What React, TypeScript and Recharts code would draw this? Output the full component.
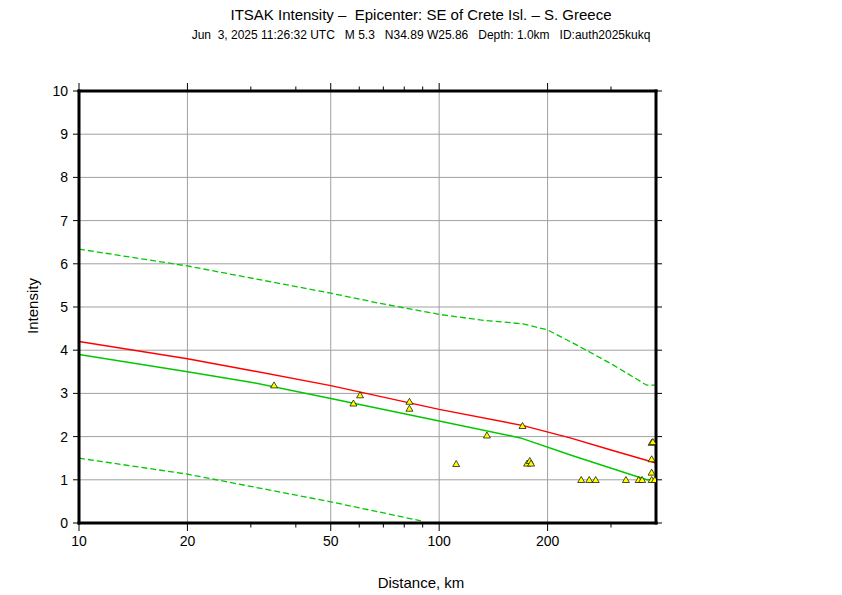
import React from 'react';
import { ComposedChart, Line, Scatter, XAxis, YAxis, CartesianGrid } from 'recharts';

// Red curve (observed-fit)
const RED_DIST = [10, 20, 30, 50, 100, 170, 231, 300, 400];
const RED_INT = [4.2, 3.8, 3.53, 3.18, 2.63, 2.26, 1.97, 1.69, 1.39];
// Green solid curve (model)
const GREEN_DIST = [10, 20, 30, 50, 100, 168, 236, 377, 400];
const GREEN_INT = [3.9, 3.5, 3.26, 2.88, 2.36, 1.97, 1.55, 1.0, 1.0];
// Green dashed upper bound
const UPPER_DIST = [10, 20, 50, 68, 100, 130, 171, 200, 246, 304, 377, 400];
const UPPER_INT = [6.34, 5.95, 5.32, 5.09, 4.83, 4.7, 4.61, 4.47, 4.08, 3.66, 3.19, 3.19];
// Green dashed lower bound
const LOWER_DIST = [10, 20, 50, 89];
const LOWER_INT = [1.5, 1.13, 0.49, 0.05];
// Observations (triangles)
const OBS_DIST = [34.8, 57.8, 60.3, 82.7, 82.7, 111.5, 135.7, 170.4, 175.5, 178.5, 180, 248, 261, 272, 330, 358, 366, 389, 397, 389, 389, 389, 392];
const OBS_INT = [3.19, 2.77, 2.96, 2.81, 2.65, 1.37, 2.03, 2.25, 1.38, 1.44, 1.38, 1.0, 1.0, 1.0, 1.0, 1.0, 1.0, 1.0, 1.0, 1.17, 1.48, 1.86, 1.88];

const X_MAJOR = [10, 20, 50, 100, 200];
const X_MINOR = [30, 40, 60, 70, 80, 90, 300];
const X_GRID = [20, 50, 100, 200];
const Y_TICKS = [0, 1, 2, 3, 4, 5, 6, 7, 8, 9, 10];

const TITLE = 'ITSAK Intensity –  Epicenter: SE of Crete Isl. – S. Greece';
const SUBTITLE = 'Jun  3, 2025 11:26:32 UTC   M 5.3   N34.89 W25.86   Depth: 1.0km   ID:auth2025kukq';
const X_LABEL = 'Distance, km';
const Y_LABEL = 'Intensity';

const zip = (ds: number[], is: number[]) => ds.map((d, k) => ({ d, i: is[k] }));
const redData = zip(RED_DIST, RED_INT);
const greenData = zip(GREEN_DIST, GREEN_INT);
const upperData = zip(UPPER_DIST, UPPER_INT);
const lowerData = zip(LOWER_DIST, LOWER_INT);
const obsData = zip(OBS_DIST, OBS_INT);
const X_ALL = [...X_MAJOR, ...X_MINOR].sort((a, b) => a - b);

const FONT = '"Liberation Sans", Arial, Helvetica, sans-serif';
const GREEN = '#00c800';

const BottomTick = (props: any) => {
  const { x, y, payload } = props;
  const v = payload.value;
  const major = X_MAJOR.includes(v);
  return (
    <g>
      <line x1={x} y1={y} x2={x} y2={y + (major ? 8 : 4.5)} stroke="#000" strokeWidth={1} />
      {major && (
        <text x={x} y={y + 23} textAnchor="middle" fontSize={14} fontFamily={FONT} fill="#000">
          {v}
        </text>
      )}
    </g>
  );
};

const TopTick = (props: any) => {
  const { x, y, payload } = props;
  const major = X_MAJOR.includes(payload.value);
  return <line x1={x} y1={y} x2={x} y2={y - (major ? 8 : 4.5)} stroke="#000" strokeWidth={1} />;
};

const Triangle = (props: any) => {
  const { cx, cy } = props;
  if (cx == null || cy == null) return null;
  return (
    <polygon
      points={`${cx - 3.5},${cy + 2.7} ${cx + 3.5},${cy + 2.7} ${cx},${cy - 3.3}`}
      fill="#ffff00"
      stroke="#000"
      strokeWidth={0.7}
    />
  );
};

const frame = { stroke: '#000', strokeWidth: 3, strokeLinecap: 'square' as const };

export default function App() {
  return (
    <div style={{ position: 'relative', width: 834, height: 587 }}>
      <ComposedChart width={834} height={587} margin={{ top: 73, right: 176, bottom: 42, left: 31 }}>
        <XAxis xAxisId="g" hide type="number" dataKey="d" scale="log" domain={[10, 400]} allowDataOverflow ticks={X_GRID} />
        <CartesianGrid xAxisId="g" yAxisId="l" stroke="#a0a0a0" strokeWidth={1} />
        <XAxis
          xAxisId="b"
          orientation="bottom"
          type="number"
          dataKey="d"
          scale="log"
          domain={[10, 400]}
          allowDataOverflow
          ticks={X_ALL}
          interval={0}
          height={30}
          tickSize={0}
          tickMargin={0}
          tickLine={false}
          axisLine={frame}
          tick={<BottomTick />}
        />
        <XAxis
          xAxisId="t"
          orientation="top"
          type="number"
          dataKey="d"
          scale="log"
          domain={[10, 400]}
          allowDataOverflow
          ticks={X_ALL}
          interval={0}
          height={10}
          tickSize={0}
          tickMargin={0}
          tickLine={false}
          axisLine={frame}
          tick={<TopTick />}
        />
        <YAxis
          yAxisId="l"
          type="number"
          dataKey="i"
          domain={[0, 10]}
          allowDataOverflow
          ticks={Y_TICKS}
          interval={0}
          width={40}
          tickSize={6}
          tickMargin={5}
          axisLine={frame}
          tickLine={{ stroke: '#000', strokeWidth: 1 }}
          tick={{ fill: '#000', fontSize: 14, fontFamily: FONT }}
        />
        <YAxis
          yAxisId="r"
          orientation="right"
          type="number"
          dataKey="i"
          domain={[0, 10]}
          allowDataOverflow
          ticks={Y_TICKS}
          interval={0}
          width={10}
          tickSize={6}
          tickFormatter={() => ''}
          axisLine={frame}
          tickLine={{ stroke: '#000', strokeWidth: 1 }}
        />
        <Line xAxisId="b" yAxisId="l" data={upperData} dataKey="i" type="linear" stroke={GREEN} strokeWidth={1.3} strokeDasharray="6 3" dot={false} isAnimationActive={false} />
        <Line xAxisId="b" yAxisId="l" data={lowerData} dataKey="i" type="linear" stroke={GREEN} strokeWidth={1.3} strokeDasharray="6 3" dot={false} isAnimationActive={false} />
        <Line xAxisId="b" yAxisId="l" data={greenData} dataKey="i" type="linear" stroke={GREEN} strokeWidth={1.5} dot={false} isAnimationActive={false} />
        <Line xAxisId="b" yAxisId="l" data={redData} dataKey="i" type="linear" stroke="#ff0000" strokeWidth={1.5} dot={false} isAnimationActive={false} />
        <Scatter xAxisId="b" yAxisId="l" data={obsData} dataKey="i" shape={<Triangle />} isAnimationActive={false} />
      </ComposedChart>
      <svg width={842} height={595} style={{ position: 'absolute', left: -8, top: -8, pointerEvents: 'none' }}>
        <text x={421} y={19.5} textAnchor="middle" fontSize={15} fontFamily={FONT} fill="#000" style={{ whiteSpace: 'pre' }}>
          {TITLE}
        </text>
        <text x={421} y={39.3} textAnchor="middle" fontSize={12} fontFamily={FONT} fill="#000" style={{ whiteSpace: 'pre' }}>
          {SUBTITLE}
        </text>
        <text x={421} y={588} textAnchor="middle" fontSize={15} fontFamily={FONT} fill="#000">
          {X_LABEL}
        </text>
        <text x={38.3} y={306} textAnchor="middle" fontSize={15} fontFamily={FONT} fill="#000" transform="rotate(-90, 38.3, 306)">
          {Y_LABEL}
        </text>
      </svg>
    </div>
  );
}
